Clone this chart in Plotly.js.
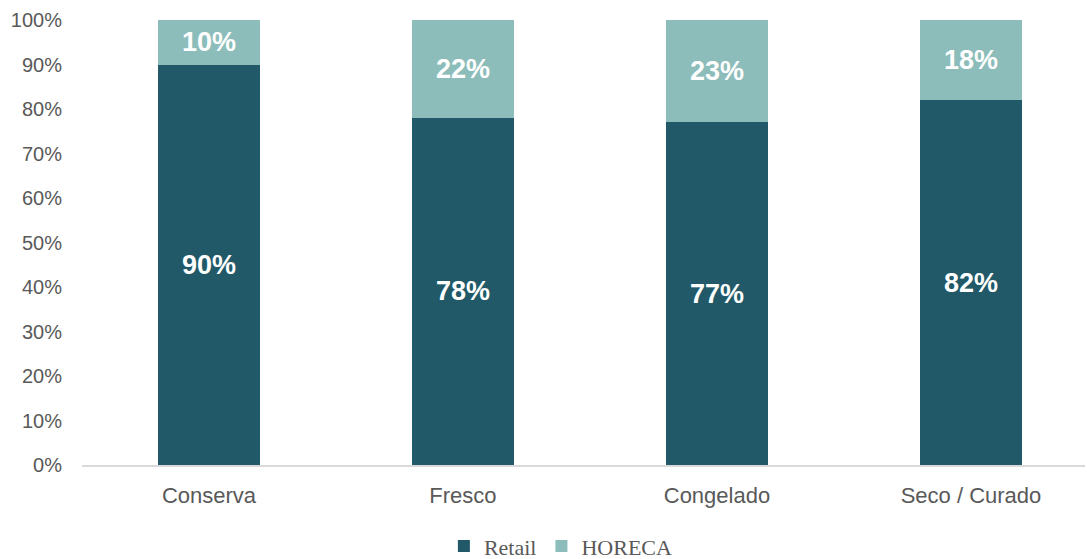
<!DOCTYPE html>
<html>
<head>
<meta charset="utf-8">
<script src="https://cdn.plot.ly/plotly-3.0.1.min.js"></script>
<style>html,body{margin:0;padding:0;background:#fff;}#chart{width:1087px;height:559px;}</style>
</head>
<body>
<div id="chart"></div>
<script>
var categories = ["Conserva", "Fresco", "Congelado", "Seco / Curado"];
var retail = [90, 78, 77, 82];
var horeca = [10, 22, 23, 18];
var yTickVals = [0, 10, 20, 30, 40, 50, 60, 70, 80, 90, 100];
var yTickText = ["0%", "10%", "20%", "30%", "40%", "50%", "60%", "70%", "80%", "90%", "100%"];

var labelFont = {family: "Liberation Sans, Arial, sans-serif", size: 27, color: "#ffffff", weight: "bold"};

var traces = [
  {
    type: "bar", name: "Retail", x: categories, y: retail,
    text: retail.map(function(v){return "<b>" + v + "%</b>";}),
    textposition: "inside", insidetextanchor: "middle", textangle: 0,
    textfont: labelFont,
    marker: {color: "#215968"}, hoverinfo: "skip"
  },
  {
    type: "bar", name: "HORECA", x: categories, y: horeca,
    text: horeca.map(function(v){return "<b>" + v + "%</b>";}),
    textposition: "inside", insidetextanchor: "middle", textangle: 0,
    textfont: labelFont,
    marker: {color: "#8cbdba"}, hoverinfo: "skip"
  }
];

var layout = {
  width: 1087, height: 559,
  margin: {l: 82, r: 2, t: 20, b: 94},
  barmode: "stack",
  bargap: 0.6,
  paper_bgcolor: "#ffffff", plot_bgcolor: "#ffffff",
  showlegend: true,
  legend: {
    orientation: "h", traceorder: "normal", xref: "container", yref: "container",
    x: 0.516, xanchor: "center", y: 0.023, yanchor: "middle",
    font: {family: "Liberation Serif, Cambria, serif", size: 22, color: "#595959"},
    itemwidth: 30, tracegroupgap: 0
  },
  xaxis: {
    type: "category", range: [-0.5, 3.449], fixedrange: true,
    showline: true, linecolor: "#d9d9d9", linewidth: 1.5,
    showgrid: false, zeroline: false,
    ticks: "outside", ticklen: 10, tickcolor: "rgba(0,0,0,0)",
    tickfont: {family: "Liberation Sans, Arial, sans-serif", size: 22, color: "#595959"}
  },
  yaxis: {
    range: [0, 100], tickvals: yTickVals, ticktext: yTickText,
    showgrid: false, zeroline: false, showline: false,
    ticks: "outside", ticklen: 15, tickcolor: "rgba(0,0,0,0)",
    tickfont: {family: "Liberation Sans, Arial, sans-serif", size: 20, color: "#595959"}
  }
};

Plotly.newPlot("chart", traces, layout, {displayModeBar: false, staticPlot: true});
</script>
</body>
</html>
